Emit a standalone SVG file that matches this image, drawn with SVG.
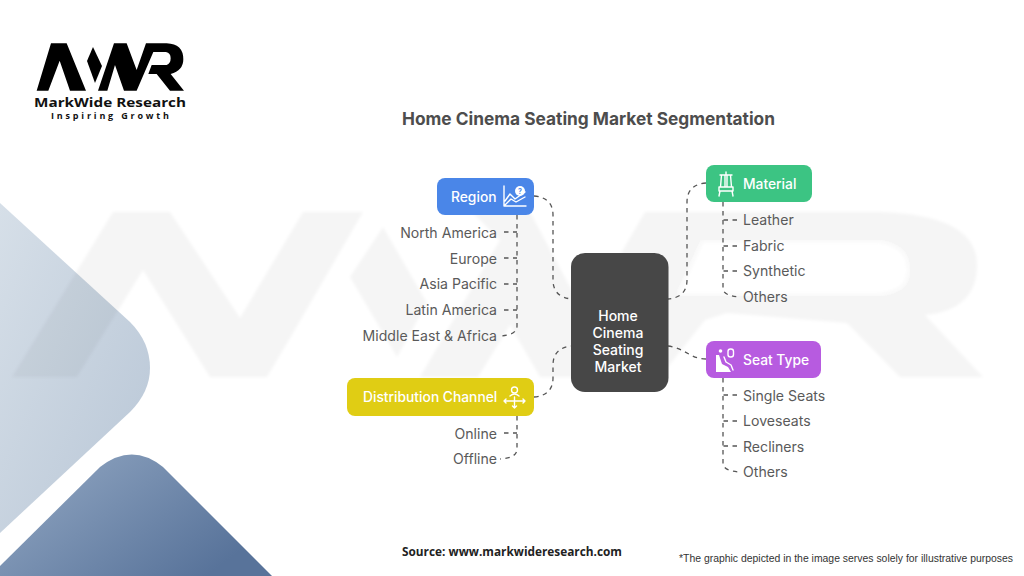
<svg xmlns="http://www.w3.org/2000/svg" width="1024" height="576" viewBox="0 0 1024 576">
<defs>
<linearGradient id="pale" x1="0" y1="0" x2="1" y2="1"><stop offset="0" stop-color="#d6dfe8"/><stop offset="1" stop-color="#b8c6d6"/></linearGradient>
<linearGradient id="deep" x1="0" y1="0" x2="1" y2="0.6"><stop offset="0" stop-color="#94a9c4"/><stop offset="1" stop-color="#58739a"/></linearGradient>
<filter id="soft" x="-5%" y="-5%" width="110%" height="110%"><feGaussianBlur stdDeviation="1.5"/></filter>
</defs>
<style>
.lbl{font-family:Inter,"Noto Sans","Liberation Sans",sans-serif;font-size:14.1px;fill:#5a5a5a;text-anchor:end}
.lblr{text-anchor:start}
.head{font-family:Inter,"Noto Sans","Liberation Sans",sans-serif;font-size:13.8px;font-weight:500;fill:#fff}
.ctr{font-family:Inter,"Noto Sans","Liberation Sans",sans-serif;font-size:14px;font-weight:500;fill:#fff;text-anchor:middle}
.dash{fill:none;stroke:#555;stroke-width:1.3;stroke-dasharray:4.5 4.5}
.ico{fill:none;stroke:#fff;stroke-width:1.4;stroke-linecap:round;stroke-linejoin:round}
.icf{fill:#fff}
.wm{fill:#000;fill-opacity:.04}
</style>
<rect width="1024" height="576" fill="#fff"/>
<g id="backdrop">
<path d="M0,203 L130,322 Q150,342 150,368 Q150,392 130,412 L0,533 Z" fill="url(#pale)"/>
<path d="M0,566 L100,467 Q132,442 163,467 L272,576 L0,576 Z" fill="url(#deep)"/>
</g>
<g id="watermark" filter="url(#soft)">
<path class="wm" d="M12,377 L113,212 L170,212 L240,318 L303,212 L363,212 L293,333 L267,377 L210,377 L143,270 L77,377 Z"/>
<path class="wm" d="M383,227 L427,303 L397,357 L350,277 Z"/>
<path class="wm" d="M420,377 L500,240 L472,212 L530,212 L585,315 L645,212 L880,212 Q977,215 977,265 Q977,310 925,315 L983,377 L900,377 L847,323 L727,313 L705,320 L660,377 L600,377 L540,377 L510,325 L478,377 Z"/>
<path d="M703,243 L880,243 Q907,248 907,270 Q907,290 880,293 L680,293 Z" fill="#fff"/>
</g>
<g id="logo" transform="translate(20,30) scale(0.3333)" fill="#000">
<path d="M50,182 L93,40 L140,40 L198,182 L150,182 L119,92 L85,182 Z"/>
<path d="M219,51 L246,108 L225,159 L201,93 Z"/>
<path d="M234,182 L282,40 L320,40 L350,120 L378,40 L440,40 Q490,42 490,88 Q490,122 452,132 L492,182 L450,182 L410,132 L385,132 L395,105 L440,105 Q452,100 452,85 Q452,68 438,66 L400,66 L350,182 L312,182 L285,105 L262,182 Z"/>
</g>
<text x="110" y="106.500" font-family="'Open Sans','Liberation Sans',sans-serif" font-size="13" font-weight="700" fill="#111" text-anchor="middle" textLength="152" lengthAdjust="spacingAndGlyphs">MarkWide Research</text>
<text x="110" y="118.500" font-family="'Open Sans','Liberation Sans',sans-serif" font-size="9" font-weight="700" fill="#111" text-anchor="middle" textLength="118">Inspiring Growth</text>
<text x="588.5" y="125" font-family="Inter,'Liberation Sans',sans-serif" font-size="17.5" font-weight="700" fill="#4d4d4d" text-anchor="middle" textLength="373" lengthAdjust="spacingAndGlyphs">Home Cinema Seating Market Segmentation</text>
<g id="connectors">
<path class="dash" d="M534,196 C546,197 553,203 553,215 L553,280 C553,292 560,298 572,299"/>
<path class="dash" d="M534,397 C546,396 553,390 553,378 L553,365 C553,353 560,347 572,346"/>
<path class="dash" d="M706,183 C694,184 687,190 687,202 L687,280 C687,292 680,298 668,299"/>
<path class="dash" d="M668,346 C685,348 690,359 706,359"/>
<path class="dash" d="M517,215 L517,326 Q517,335 500,336"/>
<path class="dash" d="M504,232 H517 M504,258 H517 M504,284 H517 M504,310 H517"/>
<path class="dash" d="M517,416 L517,449 Q517,458 500,459"/>
<path class="dash" d="M504,433 H517"/>
<path class="dash" d="M723,202 L723,288 Q723,296 740,297"/>
<path class="dash" d="M737,220 H723 M737,246 H723 M737,271 H723"/>
<path class="dash" d="M723,378 L723,463 Q723,471 740,472"/>
<path class="dash" d="M737,395 H723 M737,421 H723 M737,446 H723"/>
</g>
<g id="node-center">
<rect x="571" y="253" width="97.500" height="139" rx="14" fill="#474747"/>
<text class="ctr" x="618" y="321">Home</text>
<text class="ctr" x="618" y="338">Cinema</text>
<text class="ctr" x="618" y="355">Seating</text>
<text class="ctr" x="618" y="372">Market</text>
</g>
<g id="node-region">
<rect x="437" y="178" width="97" height="37" rx="8" fill="#4a86e8"/>
<text class="head" x="451" y="201.500">Region</text>
<path class="ico" d="M504,186 V206 H526 M505,201 L510,194 L515,199 L525,192 M505,205 L511,199 L516,202 L525,197"/>
<circle cx="520" cy="191" r="5" fill="#fff"/>
<text x="520" y="194" font-family="Inter,sans-serif" font-size="7" font-weight="700" fill="#4a86e8" text-anchor="middle">?</text>
</g>
<g id="node-region-items">
<text class="lbl" x="497" y="237.500">North America</text>
<text class="lbl" x="497" y="263.500">Europe</text>
<text class="lbl" x="497" y="289">Asia Pacific</text>
<text class="lbl" x="497" y="315">Latin America</text>
<text class="lbl" x="497" y="340.500">Middle East &amp; Africa</text>
</g>
<g id="node-distribution">
<rect x="347" y="378" width="187" height="38" rx="8" fill="#e0cd14"/>
<text class="head" x="363" y="402">Distribution Channel</text>
<circle cx="514.500" cy="390" r="3" class="ico"/>
<path class="ico" d="M510,396 Q514.500,392 519,396 M504,401 H525 M514.500,397 V408 M504,401 l2,-2 M504,401 l2,2 M525,401 l-2,-2 M525,401 l-2,2 M512.500,406 l2,2 l2,-2"/>
</g>
<g id="node-distribution-items">
<text class="lbl" x="497" y="438.500">Online</text>
<text class="lbl" x="497" y="464">Offline</text>
</g>
<g id="node-material">
<rect x="706" y="165" width="106" height="37" rx="8" fill="#3cc483"/>
<text class="head" x="743" y="188.500">Material</text>
<path class="ico" d="M720,175 H732 M721.500,175 L720.500,187 M730.500,175 L731.500,187 M725,175 V187 M727,175 V187 M719,187 H733 V191 H719 Z M720,191 L719,196 M732,191 L733,196 M726,175 V172"/>
</g>
<g id="node-material-items">
<text class="lbl lblr" x="743" y="225">Leather</text>
<text class="lbl lblr" x="743" y="250.500">Fabric</text>
<text class="lbl lblr" x="743" y="276">Synthetic</text>
<text class="lbl lblr" x="743" y="302">Others</text>
</g>
<g id="node-seat">
<rect x="706" y="341" width="115" height="37" rx="8" fill="#b75be0"/>
<text class="head" x="743" y="364.500">Seat Type</text>
<circle cx="720.500" cy="351" r="1.800" class="icf"/>
<path class="icf" d="M716,355 L719,355 L722,364 L728,367 L731,372 L716,372 Z"/>
<path class="ico" d="M724,357 L726,362 L731,365 L733,370"/>
<rect x="728" y="349" width="5.500" height="8" rx="2.500" class="ico"/>
</g>
<g id="node-seat-items">
<text class="lbl lblr" x="743" y="400.500">Single Seats</text>
<text class="lbl lblr" x="743" y="426">Loveseats</text>
<text class="lbl lblr" x="743" y="451.500">Recliners</text>
<text class="lbl lblr" x="743" y="477">Others</text>
</g>
<text x="402" y="555.500" font-family="'Open Sans','Liberation Sans',sans-serif" font-size="12.500" font-weight="700" fill="#222" textLength="220" lengthAdjust="spacingAndGlyphs">Source: www.markwideresearch.com</text>
<text x="679" y="562" font-family="'Liberation Sans',Arial,sans-serif" font-size="10" fill="#333" textLength="334" lengthAdjust="spacingAndGlyphs">*The graphic depicted in the image serves solely for illustrative purposes</text>
</svg>
